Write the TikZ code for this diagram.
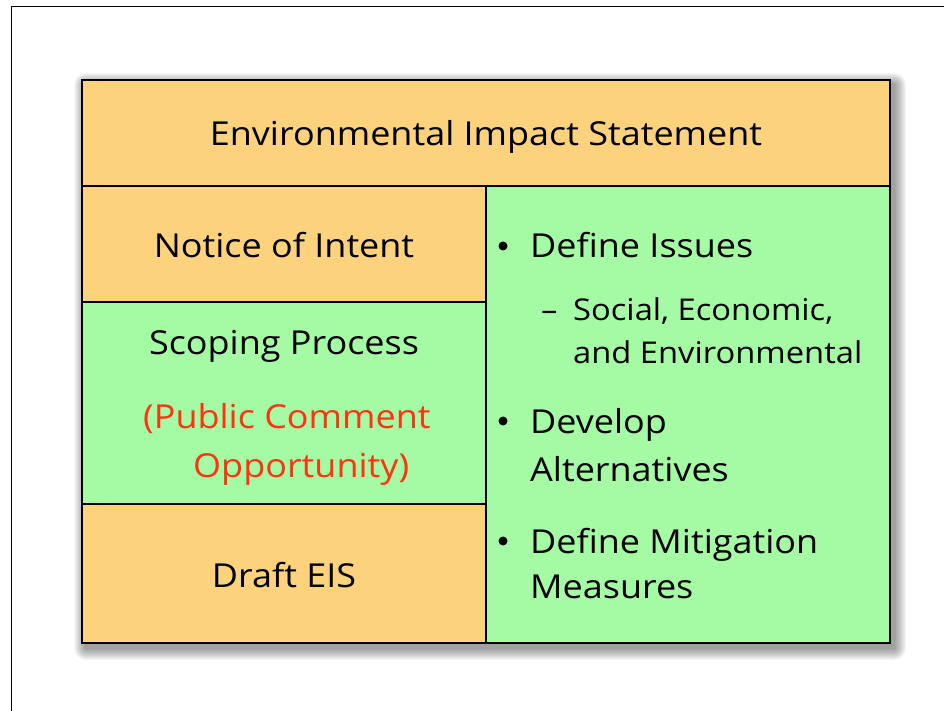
\documentclass[tikz,border=0pt]{standalone}
\usepackage{fontspec}
\setmainfont{Open Sans}[FakeStretch=1.09]
\usetikzlibrary{positioning}
\definecolor{boxorange}{HTML}{FDD27C}
\definecolor{boxgreen}{HTML}{A4FBA4}
\definecolor{notered}{HTML}{FF3311}
\tikzset{
  cell/.style={draw=black, line width=2.7pt, inner sep=0pt, outer sep=0pt},
  orangecell/.style={cell, fill=boxorange},
  greencell/.style={cell, fill=boxgreen},
  bigtext/.style={font=\fontsize{33}{40}\selectfont, inner sep=0pt, text=black},
  subtext/.style={font=\fontsize{30}{40}\selectfont, inner sep=0pt, text=black},
  redtext/.style={bigtext, text=notered},
  bulletdot/.style={circle, fill=black, inner sep=0pt, minimum size=9pt}
}
\begin{document}
\begin{tikzpicture}[x=1pt, y=-1pt]
\useasboundingbox (0,0) rectangle (944,711);
\fill[white] (0,0) rectangle (944,711);
% slide frame
\draw[line width=1.5pt] (11.5,711) -- (11.5,6.5) -- (944,6.5);
% soft shadow
\foreach \i in {1,...,12} {
  \fill[black, opacity=0.035, rounded corners=\i pt]
    ({86-\i},{85-\i}) rectangle ({894+\i},{648+\i});
}
% cells
\node[orangecell, minimum width=808pt, minimum height=106pt] (hdr) at (486,133) {};
\node[orangecell, minimum width=404pt, minimum height=116pt] (noi) at (284,244) {};
\node[greencell, minimum width=404pt, minimum height=202pt] (scp) at (284,403) {};
\node[orangecell, minimum width=404pt, minimum height=139pt] (dft) at (284,573.5) {};
\node[greencell, minimum width=404pt, minimum height=457pt] (rgt) at (688,414.5) {};
% texts
\node[bigtext, anchor=base] (thdr) at (486,146) {Environmental Impact Statement};
\node[bigtext, anchor=base] (tnoi) at (284,257) {Notice of Intent};
\node[bigtext, anchor=base] (tscp) at (284,354) {Scoping Process};
\node[redtext, anchor=base west] (tpc1) at (143,428) {(Public Comment};
\node[redtext, anchor=base west] (tpc2) at (193,477) {Opportunity)};
\node[bigtext, anchor=base] (tdft) at (284,587) {Draft EIS};
% right column bullets
\node[bulletdot] (b1) at (503,246) {};
\node[bigtext, anchor=base west] (t1) at (530,258) {Define Issues};
\node[subtext, anchor=base west] (t1d) at (541,320) {–};
\node[subtext, anchor=base west] (t1a) at (573,320) {Social, Economic,};
\node[subtext, anchor=base west] (t1b) at (573,363) {and Environmental};
\node[bulletdot] (b2) at (503,421) {};
\node[bigtext, anchor=base west] (t2a) at (530,433) {Develop};
\node[bigtext, anchor=base west] (t2b) at (530,481) {Alternatives};
\node[bulletdot] (b3) at (503,541) {};
\node[bigtext, anchor=base west] (t3a) at (530,553) {Define Mitigation};
\node[bigtext, anchor=base west] (t3b) at (530,598) {Measures};
\end{tikzpicture}
\end{document}
